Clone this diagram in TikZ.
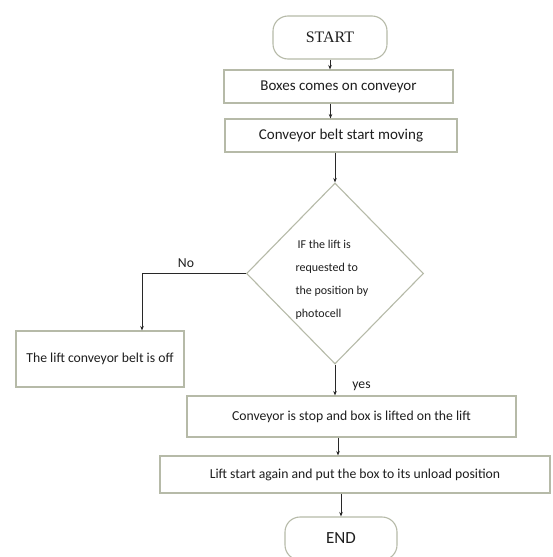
\documentclass[tikz,border=0pt]{standalone}
\usepackage{fontspec}
\setmainfont{Carlito}
\newfontfamily\startfont{Liberation Serif}
\usetikzlibrary{shapes.geometric,arrows.meta}
\definecolor{boxc}{RGB}{182,186,168}
\definecolor{arrc}{RGB}{40,40,40}
\definecolor{txtc}{RGB}{30,30,30}
\tikzset{
  box/.style={draw=boxc, line width=1.1pt, inner sep=0pt, align=center, text=txtc},
  term/.style={box, rounded corners=15pt},
  bigtxt/.style={font=\fontsize{15}{18}\selectfont},
  midtxt/.style={font=\fontsize{13.7}{16}\selectfont},
  arr/.style={draw=arrc, line width=0.8pt, -{Stealth[length=4.5pt,width=3.5pt]}},
  lbl/.style={text=txtc, font=\fontsize{13.7}{16}\selectfont, inner sep=0pt}
}
\begin{document}
\begin{tikzpicture}[x=1pt,y=-1pt]
\useasboundingbox[fill=white] (0,0) rectangle (552,557);
\node[term, minimum width=114pt, minimum height=43pt, font=\startfont\fontsize{16}{19}\selectfont] (start) at (330,37.5) {START};
\node[box, bigtxt, minimum width=229pt, minimum height=33pt] (boxes) at (338.5,86.5) {Boxes comes on conveyor};
\node[box, bigtxt, minimum width=232pt, minimum height=33pt] (conv) at (341,135.5) {Conveyor belt start moving};
\node[box, shape=diamond, minimum width=177pt, minimum height=181pt] (dec) at (335,273.5) {};
\node[text=txtc, inner sep=0pt, align=left, font=\fontsize{12}{23}\selectfont] (dectxt) at (332,280) {\hspace{2pt}IF the lift is\\requested to\\the position by\\photocell};
\node[box, midtxt, minimum width=168pt, minimum height=56pt] (off) at (100,359) {The lift conveyor belt is off};
\node[box, midtxt, minimum width=329pt, minimum height=41pt] (stop) at (351.5,416.5) {Conveyor is stop and box is lifted on the lift};
\node[box, midtxt, minimum width=390pt, minimum height=37pt] (lift) at (355,474.5) {Lift start again and put the box to its unload position};
\node[term, minimum width=112pt, minimum height=43pt, font=\fontsize{17}{20}\selectfont] (endn) at (341,538.5) {END};
\node[lbl] (no) at (186,263) {No};
\node[lbl] (yes) at (361.5,386) {yes};
\draw[arr] (start.south) -- (start.south |- boxes.north);
\draw[arr] ([xshift=-8pt]boxes.south) -- ([xshift=-8pt]boxes.south |- conv.north);
\draw[arr] (dec.north |- conv.south) -- (dec.north);
\draw[arr] (dec.west) -| ([xshift=42pt]off.north);
\draw[arr] (dec.south) -- (dec.south |- stop.north);
\draw[arr] ([xshift=-13.5pt]stop.south) -- ([xshift=-13.5pt]stop.south |- lift.north);
\draw[arr] (lift.south -| endn) -- (endn.north);
\end{tikzpicture}
\end{document}
